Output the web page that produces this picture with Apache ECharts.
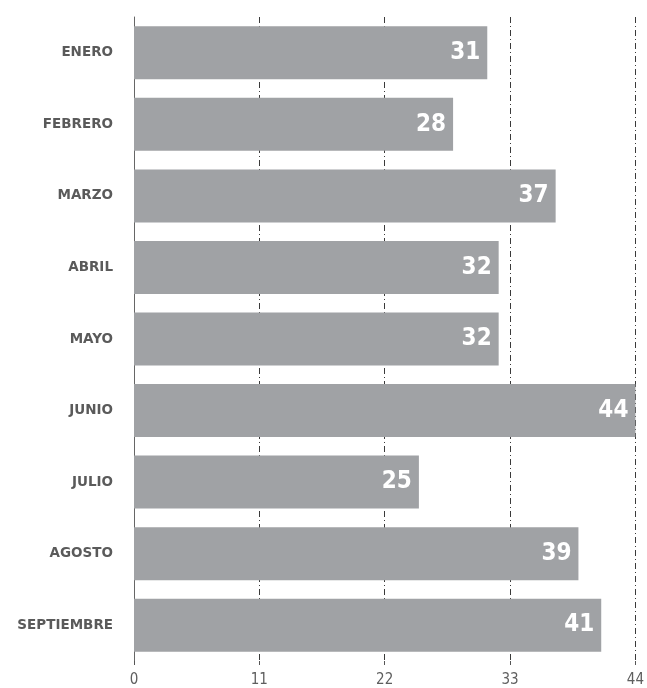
<!DOCTYPE html>
<html>
<head>
<meta charset="utf-8">
<script src="https://cdn.jsdelivr.net/npm/echarts@6/dist/echarts.min.js"></script>
<style>
html, body { margin: 0; padding: 0; background: #fff; }
#chart { width: 647px; height: 688px; }
</style>
</head>
<body>
<div id="chart"></div>
<script>
var months = ['ENERO', 'FEBRERO', 'MARZO', 'ABRIL', 'MAYO', 'JUNIO', 'JULIO', 'AGOSTO', 'SEPTIEMBRE']
var values = [31, 28, 37, 32, 32, 44, 25, 39, 41]
var xMin = 0
var xMax = 44
var xStep = 11

var echart = echarts.init(document.getElementById('chart'))

var option = {
    backgroundColor: '#fff',
    animation: false,
    grid: { left: 134, right: 10, top: 17, bottom: 26, containLabel: false },
    xAxis: {
        type: 'value',
        min: xMin,
        max: xMax,
        interval: xStep,
        axisLine: { show: false },
        axisTick: { show: true, length: 4, lineStyle: { color: '#555' } },
        axisLabel: {
            color: '#5e5e5e',
            fontFamily: 'DejaVu Sans Condensed',
            fontSize: 15,
            margin: 12
        },
        splitLine: {
            show: true,
            lineStyle: { color: '#3a3a3a', width: 1, type: [6, 3, 1, 3] }
        }
    },
    yAxis: {
        type: 'category',
        data: months,
        inverse: true,
        axisLine: { show: true, lineStyle: { color: '#666', width: 1 } },
        axisTick: { show: false },
        axisLabel: {
            color: '#5a5a5a',
            fontFamily: 'DejaVu Sans',
            fontWeight: 'bold',
            fontSize: 13.5,
            margin: 21
        }
    },
    series: [{
        type: 'bar',
        data: values,
        barWidth: 53,
        itemStyle: { color: '#a0a2a5' },
        z: 1,
        label: {
            show: true,
            position: 'insideRight',
            distance: 7,
            color: '#fff',
            fontFamily: 'DejaVu Sans Condensed',
            fontWeight: 'bold',
            fontSize: 24
        }
    }]
}

echart.setOption(option)
</script>
</body>
</html>
